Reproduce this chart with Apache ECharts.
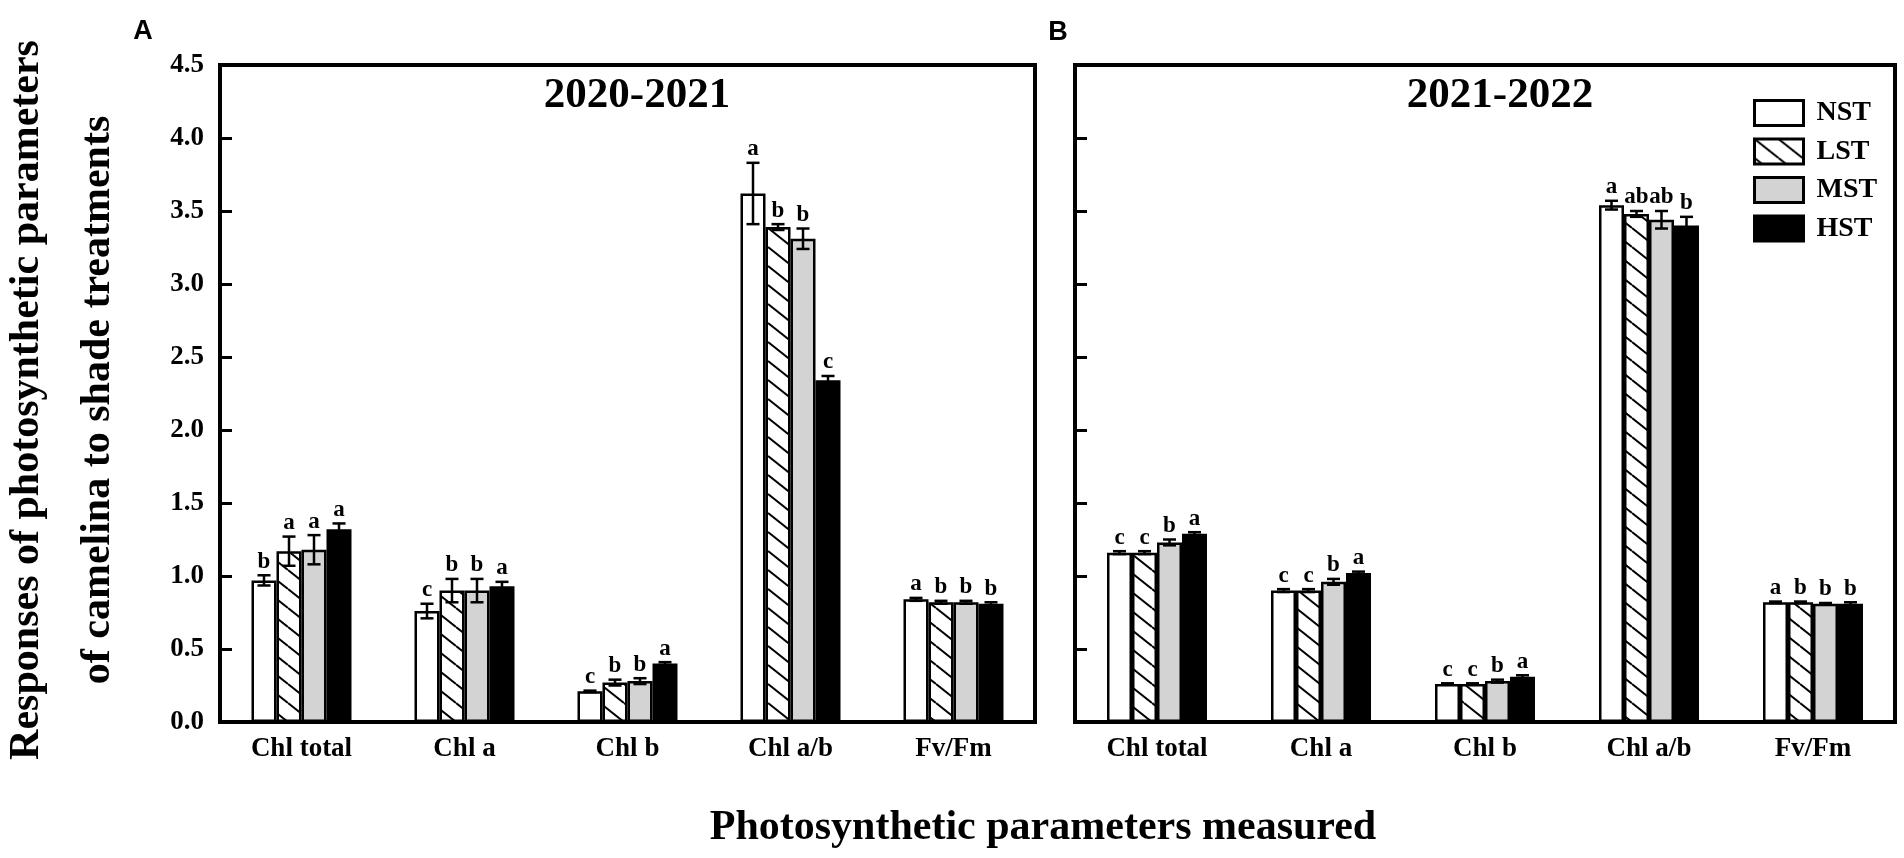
<!DOCTYPE html>
<html>
<head>
<meta charset="utf-8">
<script src="https://cdn.jsdelivr.net/npm/echarts/dist/echarts.min.js"></script>
<style>html,body{margin:0;padding:0;background:#fff}#c{width:1904px;height:858px}</style>
</head>
<body>
<div id="c"></div>
<script>
// ---- data ----
const categories = ['Chl total', 'Chl a', 'Chl b', 'Chl a/b', 'Fv/Fm'];
const treatments = ['NST', 'LST', 'MST', 'HST'];
const yTicks = [0, 0.5, 1.0, 1.5, 2.0, 2.5, 3.0, 3.5, 4.0, 4.5];

// 2020-2021 (panel A)
const a_NST = [0.97, 0.76, 0.21, 3.62, 0.84];
const a_LST = [1.17, 0.90, 0.27, 3.39, 0.82];
const a_MST = [1.18, 0.90, 0.28, 3.31, 0.82];
const a_HST = [1.32, 0.93, 0.40, 2.34, 0.81];
const a_errNST = [0.035, 0.05, 0.005, 0.21, 0.01];
const a_errLST = [0.10, 0.08, 0.02, 0.02, 0.01];
const a_errMST = [0.10, 0.08, 0.02, 0.07, 0.01];
const a_errHST = [0.04, 0.03, 0.01, 0.03, 0.01];
const a_letNST = ['b', 'c', 'c', 'a', 'a'];
const a_letLST = ['a', 'b', 'b', 'b', 'b'];
const a_letMST = ['a', 'b', 'b', 'b', 'b'];
const a_letHST = ['a', 'a', 'a', 'c', 'b'];

// 2021-2022 (panel B)
const b_NST = [1.16, 0.90, 0.26, 3.54, 0.82];
const b_LST = [1.16, 0.90, 0.26, 3.48, 0.82];
const b_MST = [1.23, 0.96, 0.28, 3.44, 0.81];
const b_HST = [1.29, 1.02, 0.31, 3.40, 0.81];
const b_errNST = [0.01, 0.01, 0.005, 0.03, 0.005];
const b_errLST = [0.01, 0.01, 0.005, 0.02, 0.005];
const b_errMST = [0.02, 0.02, 0.01, 0.06, 0.005];
const b_errHST = [0.01, 0.01, 0.01, 0.06, 0.01];
const b_letNST = ['c', 'c', 'c', 'a', 'a'];
const b_letLST = ['c', 'c', 'c', 'ab', 'b'];
const b_letMST = ['b', 'b', 'b', 'ab', 'b'];
const b_letHST = ['a', 'a', 'a', 'b', 'b'];

// ---- styling ----
const SERIF = '"Liberation Serif", "Times New Roman", serif';
const BAR_W = 25;

function hatchPattern() {
  const w = 24, h = 19;
  const cv = document.createElement('canvas');
  cv.width = w; cv.height = h;
  const ctx = cv.getContext('2d');
  ctx.fillStyle = '#fff';
  ctx.fillRect(0, 0, w, h);
  ctx.strokeStyle = '#000';
  ctx.lineWidth = 2;
  [-1, 0, 1].forEach(k => {
    ctx.beginPath();
    ctx.moveTo(0, k * h);
    ctx.lineTo(w, (k + 1) * h);
    ctx.stroke();
  });
  return { image: cv, repeat: 'repeat' };
}
const fills = ['#ffffff', hatchPattern(), '#d3d3d3', '#000000'];

const panelA = { vals: [a_NST, a_LST, a_MST, a_HST], errs: [a_errNST, a_errLST, a_errMST, a_errHST], lets: [a_letNST, a_letLST, a_letMST, a_letHST] };
const panelB = { vals: [b_NST, b_LST, b_MST, b_HST], errs: [b_errNST, b_errLST, b_errMST, b_errHST], lets: [b_letNST, b_letLST, b_letMST, b_letHST] };

function barSeries(panel, gi) {
  return treatments.map((t, s) => ({
    name: t, type: 'bar', xAxisIndex: gi, yAxisIndex: gi,
    barWidth: BAR_W, barGap: '0%',
    data: panel.vals[s],
    itemStyle: { color: fills[s], borderColor: '#000', borderWidth: 2.5 },
    emphasis: { disabled: true },
    z: 2
  }));
}

function errSeries(panel, gi) {
  const data = [], labs = [];
  treatments.forEach((t, s) => {
    panel.vals[s].forEach((v, c) => {
      data.push([c, v, panel.errs[s][c], s]);
      labs.push(panel.lets[s][c]);
    });
  });
  return {
    type: 'custom', xAxisIndex: gi, yAxisIndex: gi, z: 10, silent: true,
    data: data,
    renderItem: function (params, api) {
      const c = api.value(0), v = api.value(1), e = api.value(2), s = api.value(3);
      const off = (s - 1.5) * BAR_W;
      const top = api.coord([c, v + e]);
      const bot = api.coord([c, v - e]);
      const x = top[0] + off;
      const cap = 6.5;
      const ls = { stroke: '#000', lineWidth: 2.5 };
      return {
        type: 'group', children: [
          { type: 'line', shape: { x1: x, y1: top[1], x2: x, y2: bot[1] }, style: ls },
          { type: 'line', shape: { x1: x - cap, y1: top[1], x2: x + cap, y2: top[1] }, style: ls },
          { type: 'line', shape: { x1: x - cap, y1: bot[1], x2: x + cap, y2: bot[1] }, style: ls },
          { type: 'text', style: { text: labs[params.dataIndex], x: x, y: top[1] - 2,
              align: 'center', verticalAlign: 'bottom', textAlign: 'center', textVerticalAlign: 'bottom',
              font: 'bold 23px ' + SERIF, fill: '#000' } }
        ]
      };
    }
  };
}

function xAxis(gi) {
  return {
    type: 'category', gridIndex: gi, data: categories,
    axisLine: { show: true, lineStyle: { color: '#000', width: 4 } },
    axisTick: { show: false },
    axisLabel: { color: '#000', fontFamily: SERIF, fontWeight: 'bold', fontSize: 27, margin: 14 },
    splitLine: { show: false }
  };
}
function yAxis(gi, showLabel) {
  return {
    type: 'value', gridIndex: gi, min: yTicks[0], max: yTicks[yTicks.length - 1], interval: 0.5,
    axisLine: { show: true, lineStyle: { color: '#000', width: 4 } },
    axisTick: { show: true, inside: true, length: 12, lineStyle: { color: '#000', width: 3 } },
    axisLabel: { show: showLabel, color: '#000', fontFamily: SERIF, fontWeight: 'bold', fontSize: 27, margin: 16,
      formatter: v => v.toFixed(1) },
    splitLine: { show: false }
  };
}

const chart = echarts.init(document.getElementById('c'), null, { renderer: 'canvas' });
chart.setOption({
  animation: false,
  backgroundColor: '#fff',
  grid: [
    { left: 220, top: 65, width: 815, height: 657, show: true, borderColor: '#000', borderWidth: 4 },
    { left: 1075, top: 65, width: 820, height: 657, show: true, borderColor: '#000', borderWidth: 4 }
  ],
  xAxis: [xAxis(0), xAxis(1)],
  yAxis: [yAxis(0, true), yAxis(1, false)],
  legend: {
    data: treatments, orient: 'vertical', left: 1748, top: 94,
    itemWidth: 49, itemHeight: 25, itemGap: 10.5, icon: 'rect',
    itemStyle: { borderColor: '#000', borderWidth: 3 },
    textStyle: { color: '#000', fontFamily: SERIF, fontWeight: 'bold', fontSize: 28, lineHeight: 25, padding: [0, 0, 0, 8] },
    selectedMode: false
  },
  graphic: [
    { type: 'text', x: 143, y: 32, style: { text: 'A', font: 'bold 27px "Liberation Sans", Arial, sans-serif', fill: '#000', align: 'center', verticalAlign: 'middle' } },
    { type: 'text', x: 1058, y: 33, style: { text: 'B', font: 'bold 27px "Liberation Sans", Arial, sans-serif', fill: '#000', align: 'center', verticalAlign: 'middle' } },
    { type: 'text', x: 637, y: 96, style: { text: '2020-2021', font: 'bold 43px ' + SERIF, fill: '#000', align: 'center', verticalAlign: 'middle' } },
    { type: 'text', x: 1500, y: 96, style: { text: '2021-2022', font: 'bold 43px ' + SERIF, fill: '#000', align: 'center', verticalAlign: 'middle' } },
    { type: 'text', x: 1043, y: 828, style: { text: 'Photosynthetic parameters measured', font: 'bold 42px ' + SERIF, fill: '#000', align: 'center', verticalAlign: 'middle' } },
    { type: 'text', x: 27, y: 400, rotation: Math.PI / 2, style: { text: 'Responses of photosynthetic parameters', font: 'bold 42px ' + SERIF, fill: '#000', align: 'center', verticalAlign: 'middle' } },
    { type: 'text', x: 98, y: 400, rotation: Math.PI / 2, style: { text: 'of camelina to shade treatments', font: 'bold 42px ' + SERIF, fill: '#000', align: 'center', verticalAlign: 'middle' } }
  ],
  series: [].concat(barSeries(panelA, 0), barSeries(panelB, 1), [errSeries(panelA, 0), errSeries(panelB, 1)])
});
</script>
</body>
</html>
